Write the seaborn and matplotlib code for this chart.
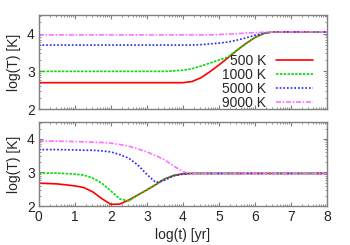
import numpy as np
import pandas as pd
import seaborn as sns
import matplotlib
matplotlib.use('Agg')
import matplotlib.pyplot as plt
from matplotlib.ticker import FixedLocator

# top panel: log(T) vs log(t)
t_top = [0, 1, 2, 3, 3.5, 4, 4.25, 4.5, 4.75, 5, 5.25, 5.5, 5.75, 6, 6.25, 6.5, 7, 8]
red_top = [2.70, 2.70, 2.70, 2.70, 2.70, 2.70, 2.73, 2.83, 2.99, 3.17, 3.36, 3.56, 3.74, 3.90, 4.01, 4.05, 4.05, 4.05]
green_top = [3.00, 3.00, 3.00, 3.00, 3.00, 3.03, 3.07, 3.14, 3.22, 3.30, 3.38, 3.56, 3.74, 3.90, 4.01, 4.05, 4.05, 4.05]
blue_top = [3.70, 3.70, 3.70, 3.70, 3.70, 3.70, 3.70, 3.71, 3.73, 3.75, 3.78, 3.83, 3.89, 3.96, 4.02, 4.05, 4.05, 4.05]
mag_top = [3.97, 3.97, 3.97, 3.97, 3.97, 3.97, 3.97, 3.97, 3.97, 3.98, 3.99, 4.00, 4.02, 4.03, 4.04, 4.05, 4.05, 4.05]

# bottom panel
t_bot = [0, 0.5, 1, 1.25, 1.5, 1.75, 2, 2.25, 2.5, 2.75, 3, 3.25, 3.5, 3.75, 4, 4.25, 4.5, 5, 6, 7, 8]
red_bot = [2.68, 2.66, 2.60, 2.55, 2.42, 2.22, 2.05, 2.06, 2.18, 2.33, 2.48, 2.64, 2.81, 2.91, 2.96, 2.97, 2.97, 2.97, 2.97, 2.97, 2.97]
green_bot = [2.98, 2.98, 2.95, 2.92, 2.83, 2.68, 2.45, 2.21, 2.15, 2.33, 2.48, 2.64, 2.81, 2.91, 2.96, 2.97, 2.97, 2.97, 2.97, 2.97, 2.97]
blue_bot = [3.68, 3.68, 3.67, 3.66, 3.66, 3.64, 3.61, 3.53, 3.42, 3.22, 2.94, 2.70, 2.77, 2.90, 2.95, 2.97, 2.97, 2.97, 2.97, 2.97, 2.97]
mag_bot = [3.93, 3.93, 3.92, 3.91, 3.90, 3.89, 3.87, 3.83, 3.78, 3.70, 3.61, 3.50, 3.37, 3.19, 3.02, 2.97, 2.97, 2.97, 2.97, 2.97, 2.97]

labels = ['500 K', '1000 K', '5000 K', '9000 K']
colors = ['#ff0000', '#00dd00', '#2020ff', '#ff70ff']
dashes = [(None, None), (1.5, 0.8), (1, 1.2), (3, 1, 1, 1)]

sns.set_style('ticks')
plt.rcParams['font.family'] = ['Liberation Sans', 'DejaVu Sans']

fig = plt.figure(figsize=(3.5, 2.45), dpi=100)
ax1 = fig.add_axes([0.111, 0.555, 0.823, 0.384])
ax2 = fig.add_axes([0.111, 0.159, 0.823, 0.343])

top = [red_top, green_top, blue_top, mag_top]
bot = [red_bot, green_bot, blue_bot, mag_bot]

for i in range(4):
    kw = dict(color=colors[i], linewidth=1.2)
    sns.lineplot(x=t_top, y=top[i], ax=ax1, label=labels[i], **kw)
    sns.lineplot(x=t_bot, y=bot[i], ax=ax2, **kw)
    if dashes[i][0] is not None:
        ax1.lines[-1].set_dashes(dashes[i])
        ax2.lines[-1].set_dashes(dashes[i])

minor = [k + np.log10(m) for k in range(0, 9) for m in range(2, 10)]
for ax in (ax1, ax2):
    ax.set_xlim(0, 8)
    ax.set_ylim(2, 4.5)
    ax.set_yticks([2, 3, 4])
    ax.set_xticks(range(9))
    ax.xaxis.set_minor_locator(FixedLocator([v for v in minor if v < 8]))
    ax.yaxis.set_minor_locator(FixedLocator([v for v in minor if 2 < v < 4.5]))
    ax.tick_params(which='both', direction='in', top=True, right=True,
                   color='#808080', labelsize=10, pad=3)
    ax.tick_params(which='major', length=3, width=0.8)
    ax.tick_params(which='minor', length=1.5, width=0.6)
    for s in ax.spines.values():
        s.set_color('#808080')
        s.set_linewidth(1.0)
    ax.set_ylabel('log(T) [K]', fontsize=10, labelpad=4)

ax1.set_xticklabels([])
ax2.set_xlabel('log(t) [yr]', fontsize=10, labelpad=3)

ax1.legend(loc='lower right', bbox_to_anchor=(0.986, -0.11), frameon=False,
           markerfirst=False, fontsize=10, handlelength=2.7, labelspacing=0.0,
           borderaxespad=0.4, handletextpad=0.7, borderpad=0.3)

fig.savefig('out.png', dpi=100)
